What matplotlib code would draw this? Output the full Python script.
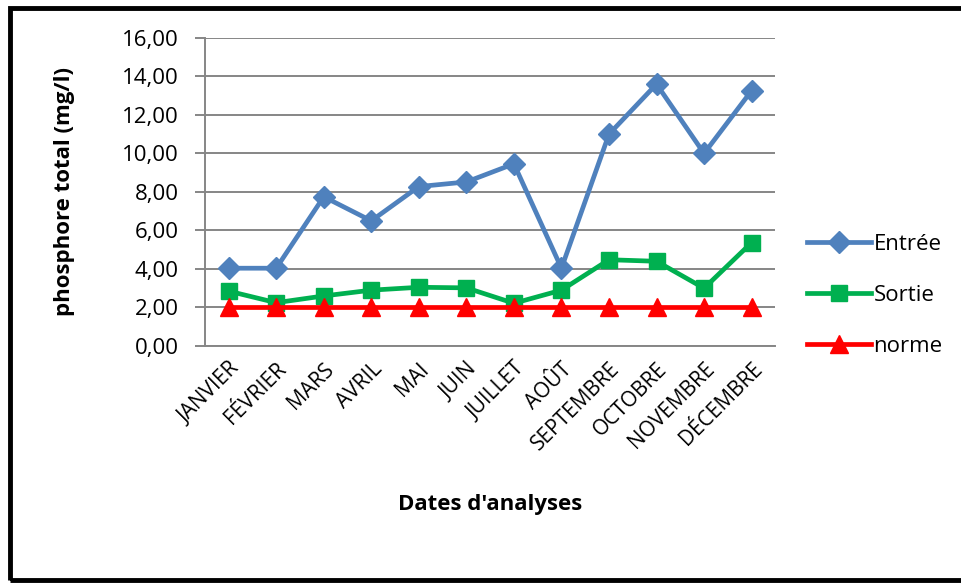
import matplotlib.pyplot as plt
from matplotlib.patches import Rectangle
from matplotlib.ticker import FuncFormatter

plt.rcParams['font.family'] = ['Open Sans', 'DejaVu Sans']

mois = ["JANVIER", "FÉVRIER", "MARS", "AVRIL", "MAI", "JUIN", "JUILLET",
        "AOÛT", "SEPTEMBRE", "OCTOBRE", "NOVEMBRE", "DÉCEMBRE"]
entree = [4.04, 4.04, 7.75, 6.50, 8.28, 8.52, 9.46, 4.04, 11.00, 13.60, 10.00, 13.26]
sortie = [2.85, 2.25, 2.60, 2.90, 3.05, 3.02, 2.22, 2.90, 4.48, 4.40, 3.00, 5.37]
norme = [2.0] * 12

fig = plt.figure(figsize=(9.62, 5.83), dpi=100)
ax = fig.add_axes([0.213, 0.4065, 0.593, 0.5285])

x = range(len(mois))
ax.plot(x, entree, color='#4F81BD', lw=3.4, marker='D', ms=11, label='Entrée', zorder=3)
ax.plot(x, sortie, color='#00B050', lw=3.4, marker='s', ms=12, label='Sortie', zorder=4)
ax.plot(x, norme, color='#FF0000', lw=3.4, marker='^', ms=13, label='norme', zorder=5)

ax.set_xlim(-0.5, 11.5)
ax.set_ylim(0, 16)
ax.set_yticks(range(0, 17, 2))
ax.yaxis.set_major_formatter(FuncFormatter(lambda v, p: f"{v:.2f}".replace('.', ',')))
ax.grid(axis='y', color='#868686', lw=1.4)
ax.set_axisbelow(True)
for s in ['top', 'right']:
    ax.spines[s].set_visible(False)
for s in ['left', 'bottom']:
    ax.spines[s].set_color('#868686')
    ax.spines[s].set_linewidth(1.4)
ax.tick_params(axis='y', length=7, width=1.4, color='#868686', labelsize=16, pad=12)
ax.tick_params(axis='x', length=0, labelsize=15, pad=9)
ax.set_xticks(list(x))
ax.set_xticklabels(mois, rotation=45, ha='right', rotation_mode='anchor')

ax.set_ylabel("phosphore total (mg/l)", fontsize=16, fontweight='bold', labelpad=34)
ax.set_xlabel("Dates d'analyses", fontsize=16, fontweight='bold', labelpad=28)

ax.legend(loc='center left', bbox_to_anchor=(1.02, 0.165), frameon=False,
          fontsize=16, handlelength=2.9, handletextpad=0.1, labelspacing=1.35)

# black frame around the figure (open on the right)
fig.patches.append(Rectangle((10 / 962, 3 / 583), 1.2, 572 / 583, transform=fig.transFigure,
                             fill=False, ec='black', lw=3.5, clip_on=False))

fig.savefig('out.png', dpi=100)
